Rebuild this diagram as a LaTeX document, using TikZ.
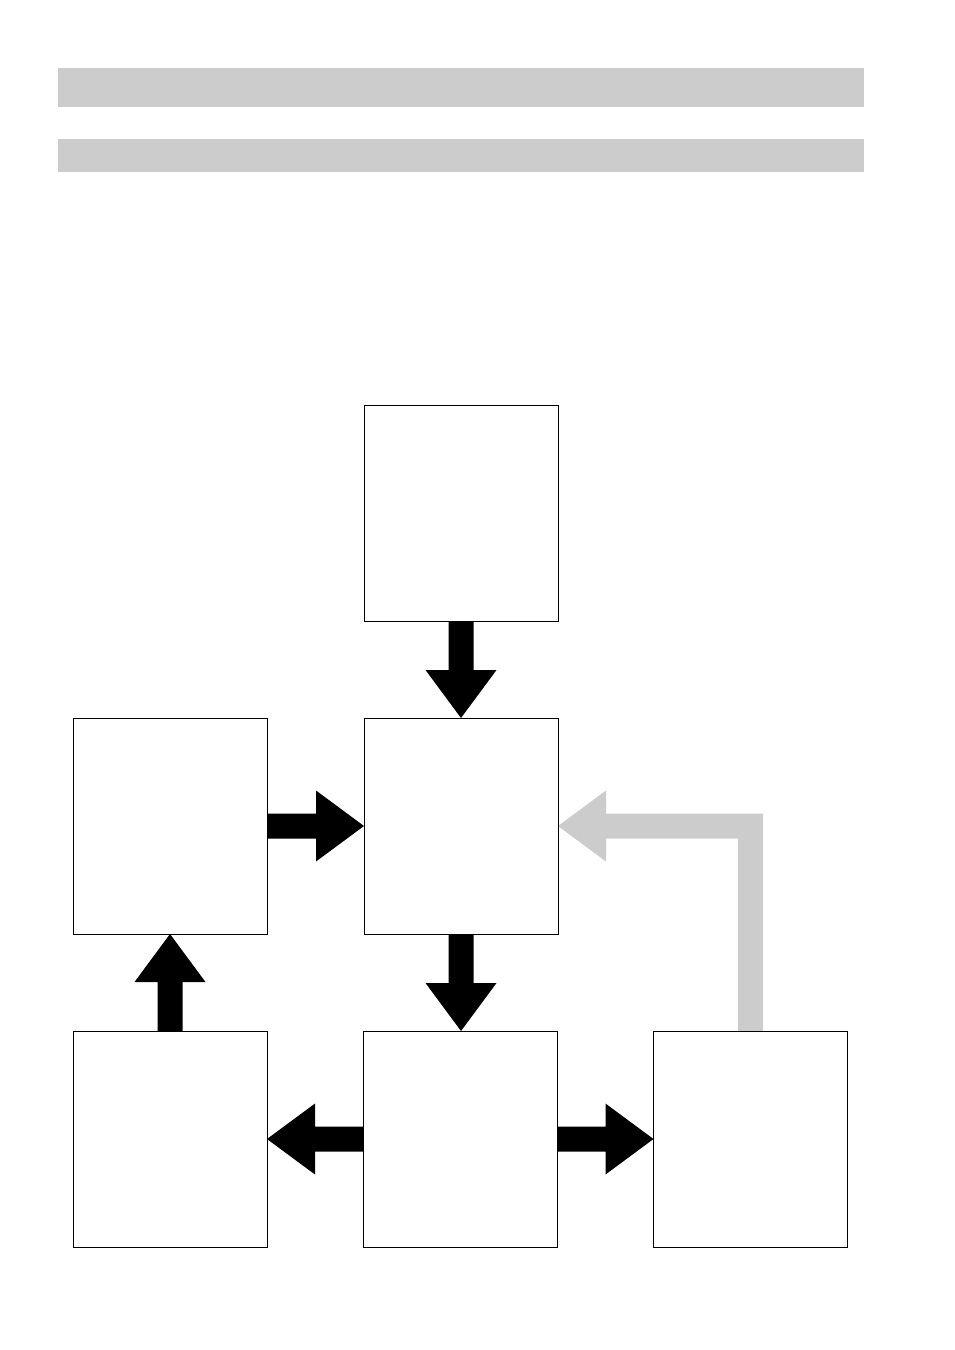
\documentclass[tikz,border=0pt]{standalone}
\usetikzlibrary{calc}
\definecolor{barg}{HTML}{CCCCCC}
\newcommand\ap[2]{({\x1+(#1)*\n2-(#2)*\n3},{\y1+(#1)*\n3+(#2)*\n2})}
\newcommand\blkarrow[3][black]{%
  \path[fill=#1] let \p1=(#2), \p2=(#3), \n1={veclen(\x2-\x1,\y2-\y1)},
    \n2={(\x2-\x1)/\n1}, \n3={(\y2-\y1)/\n1} in
    \ap{0}{-12.5} -- \ap{\n1-48}{-12.5} -- \ap{\n1-48}{-35.5} -- \ap{\n1}{0}
    -- \ap{\n1-48}{35.5} -- \ap{\n1-48}{12.5} -- \ap{0}{12.5} -- cycle;}
\tikzset{
  box/.style={draw=black, line width=1pt, minimum width=194pt, minimum height=216pt, inner sep=0pt, outer sep=0pt},
}
\begin{document}
\begin{tikzpicture}[x=1pt,y=1pt]
\useasboundingbox (0,0) rectangle (954,-1350);
% header bars
\fill[barg] (58,-68) rectangle (864,-107);
\fill[barg] (58,-139) rectangle (864,-172);
% boxes (positions)
\node[box] (top) at (461,-513) {};
\node[box] (mid) at (461,-826) {};
\node[box] (left) at (170,-826) {};
\node[box] (bl) at (170,-1139) {};
\node[box] (bm) at (460,-1139) {};
\node[box] (br) at (750.5,-1139) {};
% black block arrows
\blkarrow{top.south}{mid.north}
\blkarrow{left.east}{mid.west}
\coordinate (bmtop) at (mid.south |- bm.north);
\blkarrow{mid.south}{bmtop}
\blkarrow{bl.north}{left.south}
\blkarrow{bm.west}{bl.east}
\blkarrow{bm.east}{br.west}
% gray feedback arrow
\coordinate (gc) at (br.north |- mid.east);
\path[fill=barg] let \p1=(mid.east), \p2=(gc), \p3=(br.north) in
  ({\x3-12.5},\y3) -- ({\x3-12.5},{\y2-12.5}) -- ({\x1+48},{\y2-12.5})
  -- ({\x1+48},{\y2-35.5}) -- (\x1,\y2) -- ({\x1+48},{\y2+35.5})
  -- ({\x1+48},{\y2+12.5}) -- ({\x3+12.5},{\y2+12.5}) -- ({\x3+12.5},\y3) -- cycle;
% redraw boxes on top
\foreach \b in {top,mid,left,bl,bm,br} \draw[line width=1pt] (\b.south west) rectangle (\b.north east);
\end{tikzpicture}
\end{document}
